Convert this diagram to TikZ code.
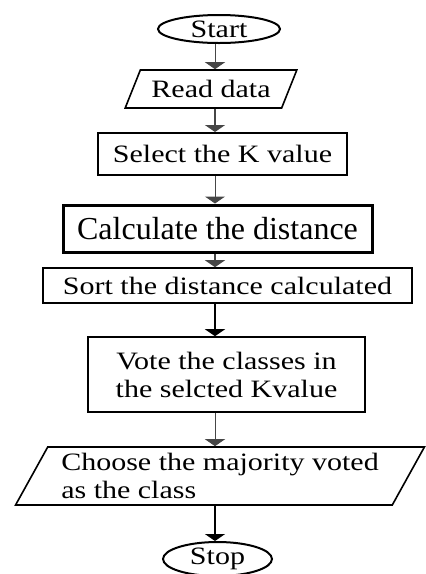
\documentclass[tikz,border=0pt]{standalone}
\usepackage{fontspec}
\setmainfont[FakeStretch=1.2]{Liberation Serif}
\newfontfamily\plainserif{Liberation Serif}
\usetikzlibrary{arrows.meta,shapes.geometric}
\definecolor{ArrowClr}{RGB}{70,70,70}
\definecolor{BoxClr}{RGB}{0,0,0}

\begin{document}
\begin{tikzpicture}[x=1pt,y=1pt,
  terminal/.style={draw=BoxClr,ellipse,line width=1pt,inner sep=0pt},
  iobox/.style={draw=BoxClr,trapezium,trapezium stretches=true,line width=0.8pt,inner sep=0pt},
  procbox/.style={draw=BoxClr,rectangle,inner sep=0pt,align=center},
  flow/.style={draw=ArrowClr,line width=0.5pt,-{Triangle[width=10pt,length=3.5pt]}},
  font=\fontsize{12.5}{14}\selectfont]
\useasboundingbox (0,0) rectangle (212.5,-287);

\coordinate (spine) at (107.5,0);

\node[terminal,minimum width=61pt,minimum height=14pt] (start) at (109.5,-14.5) {};
\node (starttxt) at (start) {Start};

\node[iobox,trapezium left angle=54,trapezium right angle=126,
  minimum width=86pt,minimum height=19pt] (read) at (105.5,-44.5) {Read data};

\node[procbox,line width=1pt,minimum width=124.5pt,minimum height=21pt] (select) at (111.25,-77) {Select the K value};

\node[procbox,line width=1.5pt,minimum width=154.5pt,minimum height=23.5pt] (calc) at (108.75,-114.25) {\plainserif\fontsize{16}{16}\selectfont Calculate the distance};

\node[procbox,line width=0.8pt,minimum width=184.5pt,minimum height=17.5pt] (sort) at (113.75,-142.75) {Sort the distance calculated};

\node[procbox,line width=0.8pt,minimum width=138.5pt,minimum height=37.5pt] (vote) at (113.25,-187.25) {Vote the classes in\\the selcted Kvalue};

\node[iobox,trapezium left angle=57,trapezium right angle=123,
  minimum width=205pt,minimum height=29pt,align=left] (choose) at (110,-238) {Choose the majority voted\\as the class};

\node[terminal,minimum width=54.5pt,minimum height=17pt] (stop) at (108.75,-279.5) {};
\node (stoptxt) at (stop) {Stop};

\draw[flow] (spine |- start.south) -- (spine |- read.north);
\draw[flow,line width=0.8pt] (spine |- read.south) -- (spine |- select.north);
\draw[flow] (spine |- select.south) -- (spine |- calc.north);
\draw[flow,line width=0.8pt] (spine |- calc.south) -- (spine |- sort.north);
\draw[flow,draw=black,line width=1pt] (spine |- sort.south) -- (spine |- vote.north);
\draw[flow] (spine |- vote.south) -- (spine |- choose.north);
\draw[flow,draw=black,line width=1pt] (spine |- choose.south) -- (spine |- stop.north);

\end{tikzpicture}
\end{document}
